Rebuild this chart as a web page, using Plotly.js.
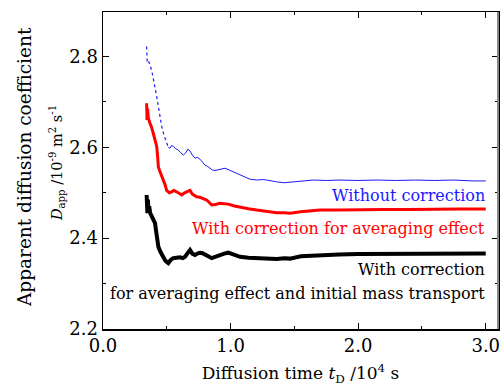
<!DOCTYPE html>
<html>
<head>
<meta charset="utf-8">
<script src="https://cdn.plot.ly/plotly-3.0.1.min.js"></script>
<style>
html,body{margin:0;padding:0;background:#fff;}
#chart{width:504px;height:392px;}
</style>
</head>
<body>
<div id="chart"></div>
<script>
// Without correction (blue)
var blueX = [0.342,0.345,0.347,0.360,0.381,0.395,0.408,0.421,0.434,0.447,0.460,0.480,0.499,0.512,0.525,0.538,0.551,0.570,0.590,0.610,0.629,0.650,0.665,0.682,0.700,0.721,0.740,0.760,0.780,0.799,0.820,0.839,0.858,0.878,0.900,0.930,0.956,0.990,1.021,1.060,1.100,1.150,1.204,1.250,1.283,1.330,1.361,1.420,1.466,1.550,1.650,1.750,1.850,2.000,2.150,2.300,2.450,2.600,2.750,2.900,3.000];
var blueY = [2.822,2.805,2.785,2.788,2.770,2.750,2.734,2.712,2.690,2.668,2.646,2.625,2.609,2.600,2.598,2.604,2.602,2.597,2.594,2.588,2.583,2.588,2.596,2.592,2.583,2.576,2.578,2.574,2.566,2.561,2.558,2.554,2.550,2.549,2.550,2.552,2.554,2.550,2.546,2.540,2.535,2.530,2.528,2.529,2.528,2.525,2.524,2.522,2.523,2.526,2.528,2.527,2.528,2.527,2.528,2.527,2.528,2.527,2.528,2.526,2.526];
// With correction for averaging effect (red)
var redX = [0.342,0.343,0.345,0.350,0.355,0.368,0.380,0.394,0.408,0.421,0.428,0.434,0.447,0.460,0.473,0.486,0.499,0.520,0.538,0.555,0.577,0.600,0.617,0.640,0.660,0.682,0.700,0.734,0.760,0.790,0.813,0.835,0.852,0.880,0.917,0.950,0.982,1.030,1.074,1.140,1.204,1.250,1.283,1.330,1.361,1.420,1.466,1.550,1.700,1.850,2.000,2.200,2.400,2.600,2.800,3.000];
var redY = [2.697,2.670,2.660,2.685,2.665,2.653,2.645,2.631,2.618,2.602,2.580,2.557,2.546,2.537,2.528,2.518,2.505,2.500,2.502,2.505,2.502,2.497,2.495,2.500,2.503,2.505,2.497,2.491,2.490,2.487,2.484,2.478,2.473,2.474,2.477,2.476,2.475,2.471,2.468,2.465,2.462,2.460,2.458,2.457,2.456,2.456,2.455,2.458,2.462,2.462,2.463,2.463,2.463,2.464,2.464,2.464];
// With correction for averaging effect and initial mass transport (black)
var blackX = [0.342,0.343,0.345,0.348,0.352,0.356,0.362,0.370,0.381,0.395,0.408,0.415,0.421,0.434,0.450,0.473,0.490,0.512,0.530,0.551,0.580,0.603,0.625,0.643,0.660,0.682,0.700,0.721,0.740,0.760,0.780,0.799,0.825,0.852,0.885,0.917,0.950,0.982,1.030,1.074,1.140,1.204,1.283,1.361,1.420,1.466,1.550,1.700,1.850,2.000,2.200,2.400,2.600,2.800,3.000];
var blackY = [2.495,2.460,2.480,2.455,2.485,2.460,2.470,2.455,2.447,2.440,2.433,2.418,2.403,2.381,2.370,2.359,2.350,2.345,2.352,2.356,2.357,2.358,2.356,2.359,2.366,2.374,2.366,2.363,2.366,2.368,2.367,2.365,2.360,2.356,2.360,2.363,2.366,2.368,2.363,2.359,2.357,2.356,2.355,2.354,2.356,2.355,2.360,2.363,2.364,2.365,2.365,2.366,2.366,2.365,2.366];

var xTickVals = [0, 1, 2, 3];
var xTickText = ["0.0", "1.0", "2.0", "3.0"];
var yTickVals = [2.2, 2.4, 2.6, 2.8];
var yTickText = ["2.2", "2.4", "2.6", "2.8"];
var labels = ["Without correction", "With correction for averaging effect", "With correction", "for averaging effect and initial mass transport"];
var yTitle1 = "Apparent diffusion coefficient";
var yTitle2 = "<i>D</i><sub>app</sub> /10<sup>-9</sup> m<sup>2</sup> s<sup>-1</sup>";
var xTitle = "Diffusion time <i>t</i><sub>D</sub> /10<sup>4</sup> s";

var split = blueX.findIndex(function (v) { return v > 0.5; });

var FONT = "DejaVu Serif";

var traces = [
  {x: blueX.slice(0, split + 1), y: blueY.slice(0, split + 1), mode: "lines", line: {color: "#1a1aff", width: 1.2, dash: "dot"}, showlegend: false, hoverinfo: "skip"},
  {x: blueX.slice(split), y: blueY.slice(split), mode: "lines", line: {color: "#1a1aff", width: 1}, showlegend: false},
  {x: redX, y: redY, mode: "lines", line: {color: "#ff0000", width: 3}, showlegend: false},
  {x: blackX, y: blackY, mode: "lines", line: {color: "#000000", width: 4}, showlegend: false}
];

var layout = {
  width: 504, height: 392,
  margin: {l: 103, r: 6, t: 12, b: 63},
  paper_bgcolor: "#fff", plot_bgcolor: "#fff",
  font: {family: FONT, size: 17, color: "#000"},
  showlegend: false,
  xaxis: {
    range: [0, 3.096], tickvals: xTickVals, ticktext: xTickText,
    ticks: "inside", ticklen: 6, tickwidth: 1, tickcolor: "#000",
    minor: {dtick: 0.5, tick0: 0, ticks: "inside", ticklen: 3, tickcolor: "#000"},
    showline: true, linecolor: "#000", linewidth: 1.5, mirror: "ticks",
    showgrid: false, zeroline: false,
    tickfont: {family: FONT, size: 18, color: "#000"},
    title: {text: xTitle, font: {family: FONT, size: 17, color: "#000"}, standoff: 12}
  },
  yaxis: {
    range: [2.2, 2.898], tickvals: yTickVals, ticktext: yTickText,
    ticks: "inside", ticklen: 6, tickwidth: 1, tickcolor: "#000",
    minor: {dtick: 0.1, tick0: 2.2, ticks: "inside", ticklen: 3, tickcolor: "#000"},
    showline: true, linecolor: "#000", linewidth: 1.5, mirror: "ticks",
    showgrid: false, zeroline: false,
    tickfont: {family: FONT, size: 18, color: "#000"}
  },
  annotations: [
    {x: 3.01, y: 2.493, xref: "x", yref: "y", text: labels[0], showarrow: false, xanchor: "right", yanchor: "middle", font: {color: "#1a1aff", size: 16, family: FONT}},
    {x: 3.01, y: 2.422, xref: "x", yref: "y", text: labels[1], showarrow: false, xanchor: "right", yanchor: "middle", font: {color: "#ff0000", size: 16, family: FONT}},
    {x: 3.01, y: 2.332, xref: "x", yref: "y", text: labels[2], showarrow: false, xanchor: "right", yanchor: "middle", font: {color: "#000", size: 16, family: FONT}},
    {x: 3.01, y: 2.279, xref: "x", yref: "y", text: labels[3], showarrow: false, xanchor: "right", yanchor: "middle", font: {color: "#000", size: 16, family: FONT}},
    {x: -0.20, y: 0.511, xref: "paper", yref: "paper", text: yTitle1, textangle: -90, showarrow: false, xanchor: "center", yanchor: "middle", font: {color: "#000", size: 18.5, family: FONT}},
    {x: -0.116, y: 0.524, xref: "paper", yref: "paper", text: yTitle2, textangle: -90, showarrow: false, xanchor: "center", yanchor: "middle", font: {color: "#000", size: 14.5, family: FONT}}
  ],
  shapes: [
    {type: "line", xref: "paper", yref: "paper", x0: 1, x1: 1, y0: 0, y1: 1, line: {color: "#888", width: 2}}
  ]
};

Plotly.newPlot("chart", traces, layout, {displayModeBar: false, staticPlot: true});
</script>
</body>
</html>
